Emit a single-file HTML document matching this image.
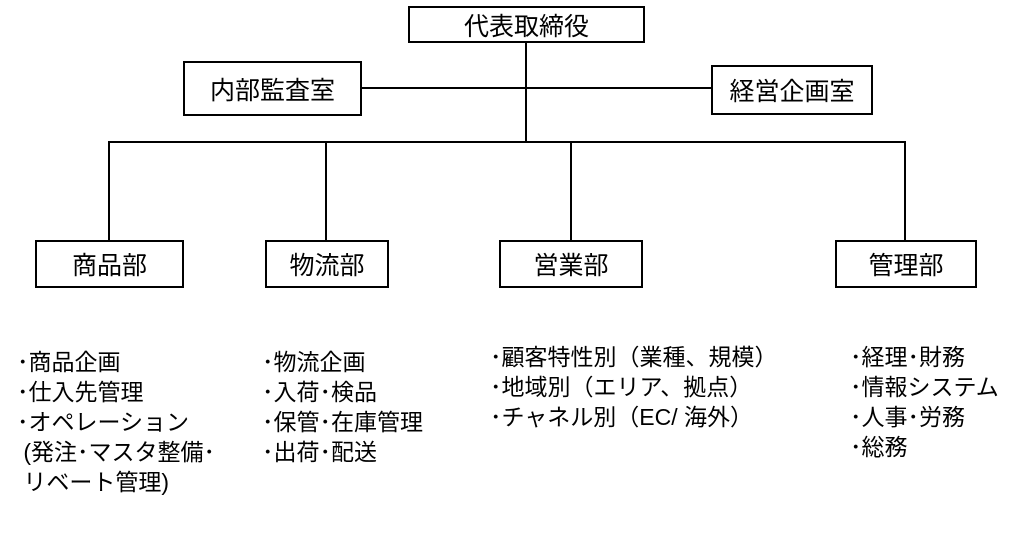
<!DOCTYPE html>
<html><head><meta charset="utf-8"><style>
body{margin:0;width:1013px;height:538px;background:#fff;position:relative;overflow:hidden;font-family:"Liberation Sans","Noto Sans CJK JP",sans-serif;color:#000}
.b{position:absolute;border:2px solid #000;box-sizing:border-box;display:flex;align-items:center;justify-content:center;font-size:25px;background:#fff}
.l{position:absolute;background:#000}
.t{position:absolute;font-size:23px;line-height:30px;white-space:pre}
</style></head><body>
<div class="l" style="left:525px;top:42px;width:2px;height:101px"></div>
<div class="l" style="left:361px;top:87px;width:351px;height:2px"></div>
<div class="l" style="left:108px;top:141px;width:798px;height:2px"></div>
<div class="l" style="left:108px;top:141px;width:2px;height:100px"></div>
<div class="l" style="left:325px;top:141px;width:2px;height:100px"></div>
<div class="l" style="left:570px;top:141px;width:2px;height:100px"></div>
<div class="l" style="left:904px;top:141px;width:2px;height:100px"></div>
<div class="b" style="left:408px;top:6px;width:237px;height:37px">代表取締役</div>
<div class="b" style="left:183px;top:61px;width:179px;height:55px">内部監査室</div>
<div class="b" style="left:711px;top:65px;width:162px;height:50px">経営企画室</div>
<div class="b" style="left:35px;top:240px;width:149px;height:48px">商品部</div>
<div class="b" style="left:265px;top:240px;width:124px;height:48px">物流部</div>
<div class="b" style="left:499px;top:240px;width:144px;height:48px">営業部</div>
<div class="b" style="left:835px;top:240px;width:142px;height:48px">管理部</div>
<div class="t" style="left:17px;top:347px">･商品企画
･仕入先管理
･オペレーション
 (発注･マスタ整備･
 リベート管理)</div>
<div class="t" style="left:262px;top:347px">･物流企画
･入荷･検品
･保管･在庫管理
･出荷･配送</div>
<div class="t" style="left:490px;top:342px">･顧客特性別（業種、規模）
･地域別（エリア、拠点）
･チャネル別（EC/ 海外）</div>
<div class="t" style="left:850px;top:342px">･経理･財務
･情報システム
･人事･労務
･総務</div>
</body></html>
